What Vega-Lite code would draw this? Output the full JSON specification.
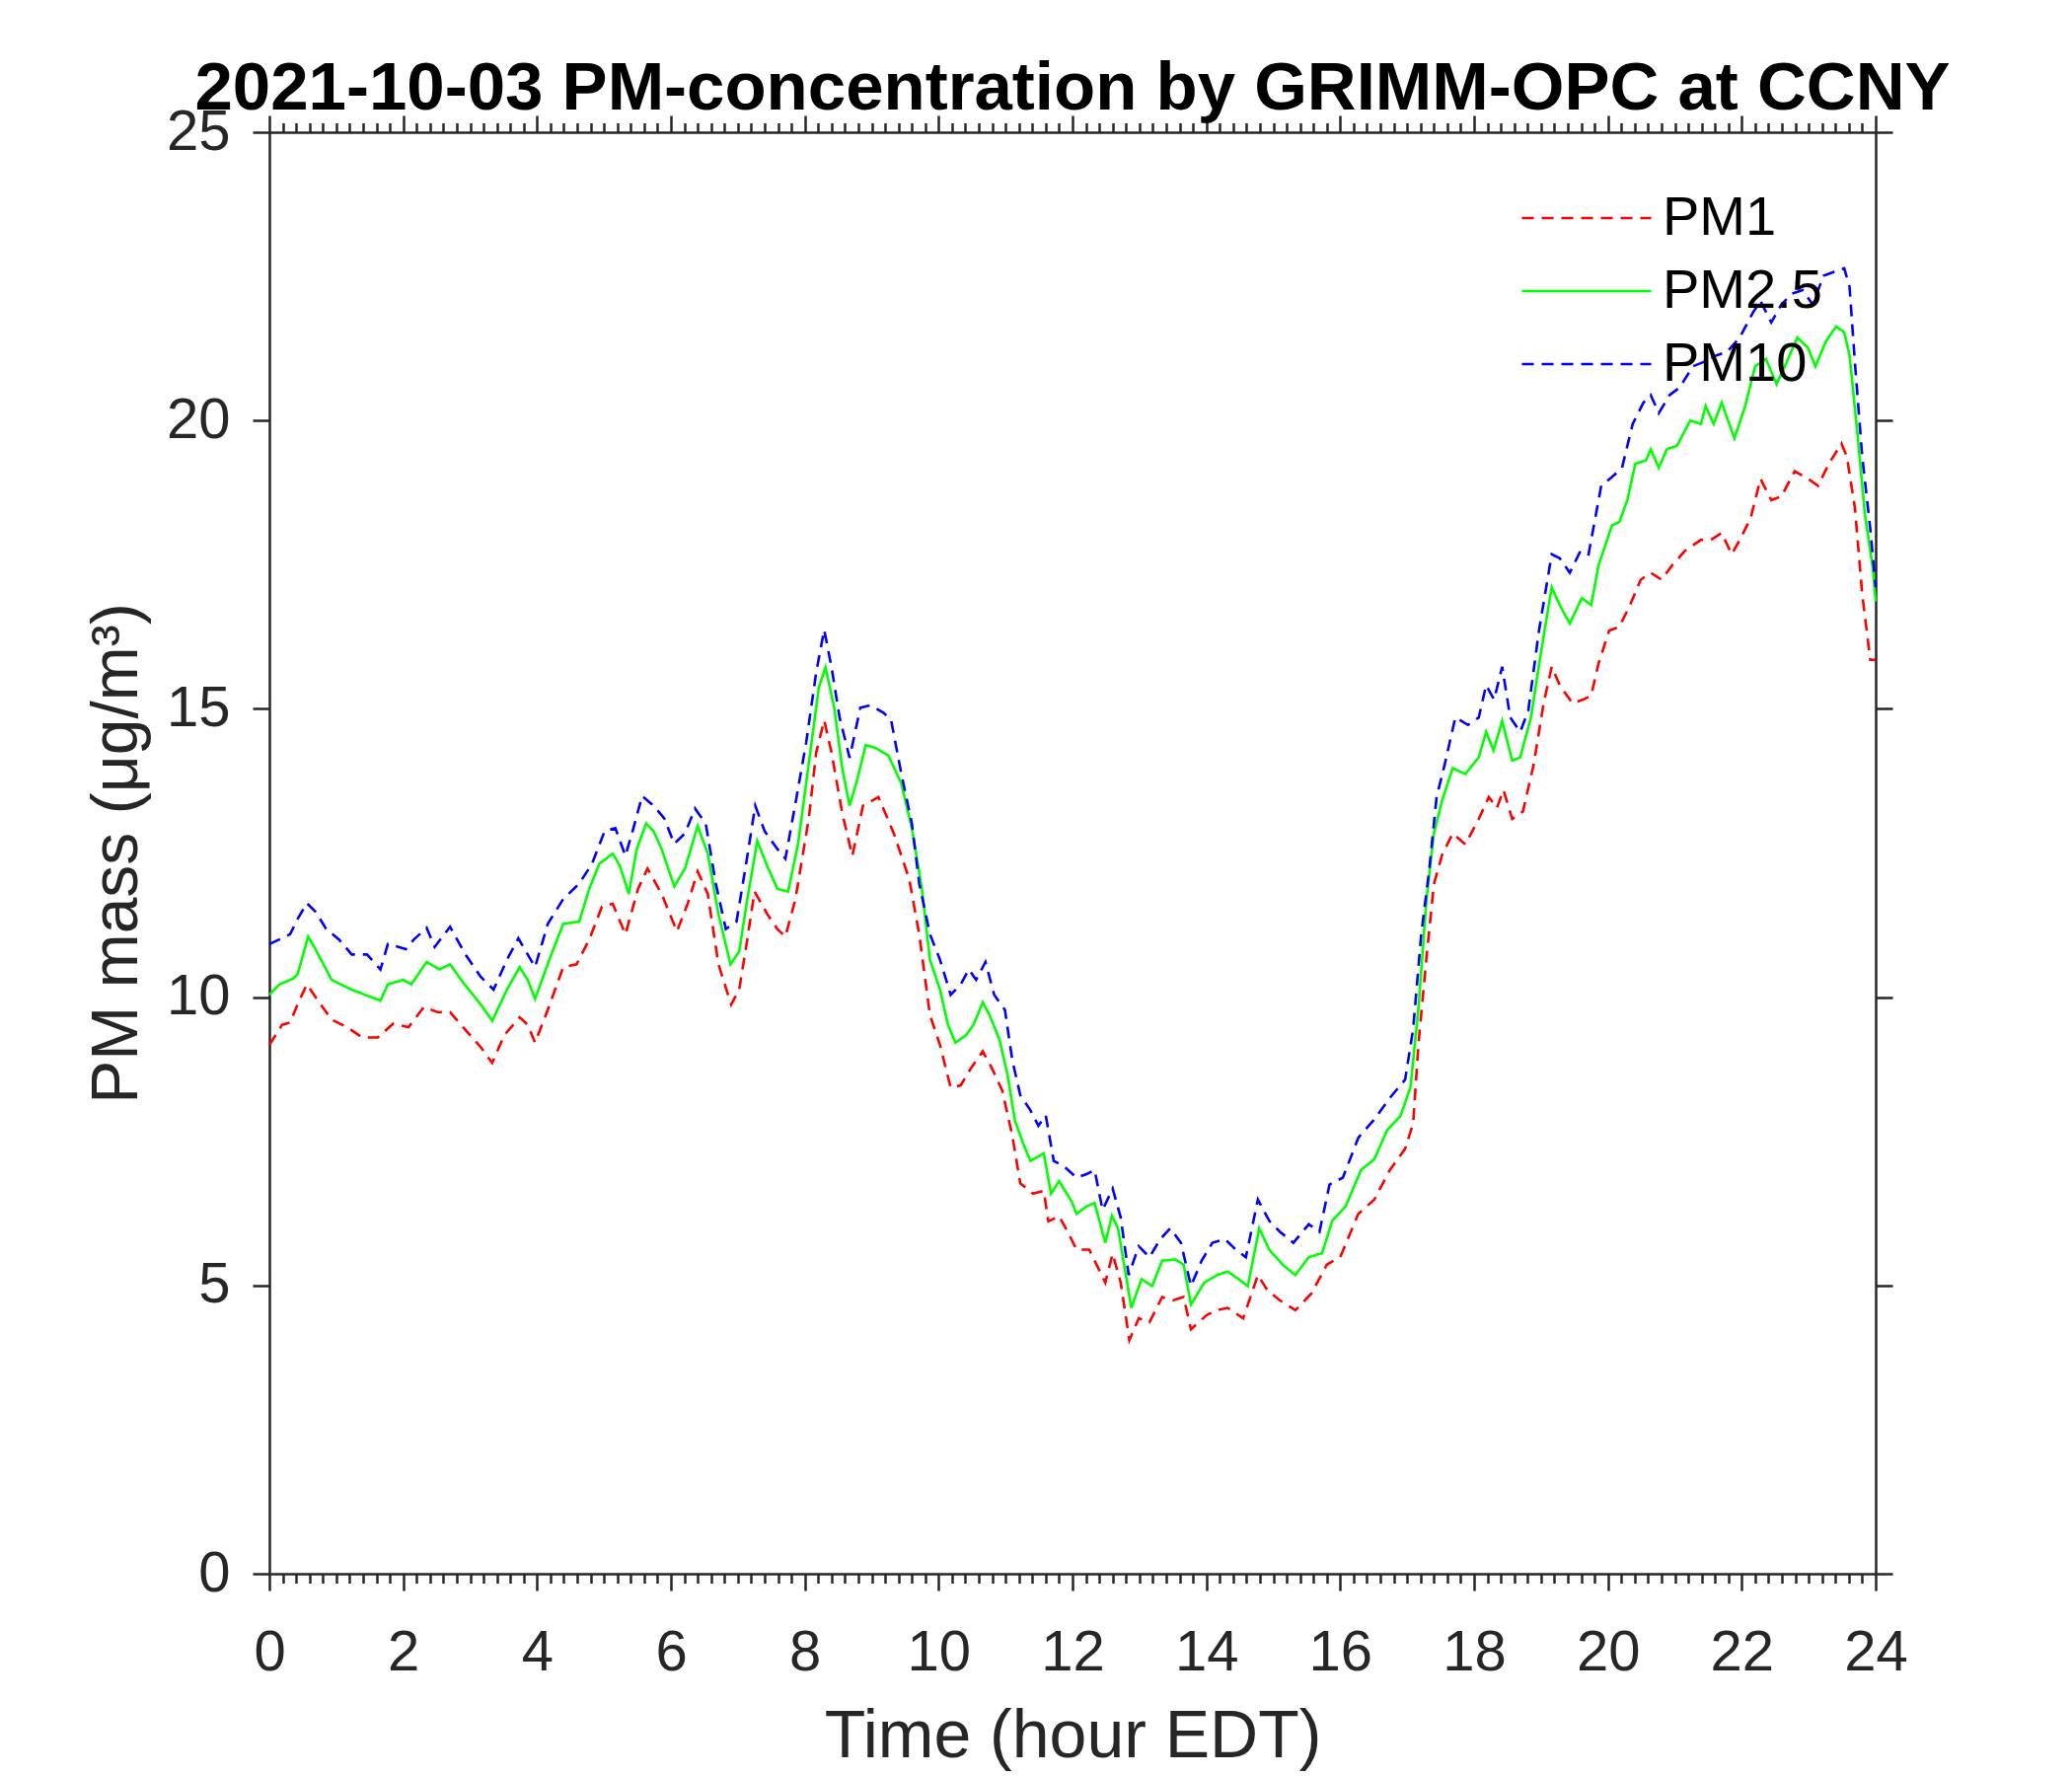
{
  "$schema": "https://vega.github.io/schema/vega-lite/v6.json",
  "width": 1628,
  "height": 1461,
  "autosize": "none",
  "padding": {"left": 273, "top": 134, "right": 199, "bottom": 205},
  "background": "white",
  "config": {"view": {"stroke": null}},
  "title": {
    "text": "2021-10-03 PM-concentration by GRIMM-OPC at CCNY",
    "font": "Liberation Sans",
    "fontSize": 69,
    "fontWeight": "bold",
    "color": "#000000",
    "anchor": "middle",
    "frame": "group",
    "offset": -20
  },
  "data": {
    "values": [
      {"t": 0, "s": "PM1", "v": 9.17}, {"t": 0.19, "s": "PM1", "v": 9.52}, {"t": 0.31, "s": "PM1", "v": 9.56}, {"t": 0.42, "s": "PM1", "v": 9.87}, {"t": 0.56, "s": "PM1", "v": 10.22}, {"t": 0.69, "s": "PM1", "v": 10.0}, {"t": 0.93, "s": "PM1", "v": 9.61}, {"t": 1.16, "s": "PM1", "v": 9.48}, {"t": 1.39, "s": "PM1", "v": 9.3}, {"t": 1.62, "s": "PM1", "v": 9.3}, {"t": 1.85, "s": "PM1", "v": 9.54}, {"t": 2.08, "s": "PM1", "v": 9.48}, {"t": 2.31, "s": "PM1", "v": 9.83}, {"t": 2.51, "s": "PM1", "v": 9.74}, {"t": 2.7, "s": "PM1", "v": 9.74}, {"t": 2.93, "s": "PM1", "v": 9.43}, {"t": 3.16, "s": "PM1", "v": 9.13}, {"t": 3.33, "s": "PM1", "v": 8.86}, {"t": 3.51, "s": "PM1", "v": 9.34}, {"t": 3.74, "s": "PM1", "v": 9.65}, {"t": 3.86, "s": "PM1", "v": 9.52}, {"t": 3.97, "s": "PM1", "v": 9.21}, {"t": 4.16, "s": "PM1", "v": 9.78}, {"t": 4.39, "s": "PM1", "v": 10.52}, {"t": 4.59, "s": "PM1", "v": 10.57}, {"t": 4.78, "s": "PM1", "v": 11.0}, {"t": 4.97, "s": "PM1", "v": 11.57}, {"t": 5.13, "s": "PM1", "v": 11.62}, {"t": 5.32, "s": "PM1", "v": 11.09}, {"t": 5.51, "s": "PM1", "v": 11.88}, {"t": 5.65, "s": "PM1", "v": 12.23}, {"t": 5.86, "s": "PM1", "v": 11.79}, {"t": 6.09, "s": "PM1", "v": 11.14}, {"t": 6.25, "s": "PM1", "v": 11.62}, {"t": 6.4, "s": "PM1", "v": 12.18}, {"t": 6.55, "s": "PM1", "v": 11.79}, {"t": 6.71, "s": "PM1", "v": 10.57}, {"t": 6.9, "s": "PM1", "v": 9.87}, {"t": 7.02, "s": "PM1", "v": 10.13}, {"t": 7.13, "s": "PM1", "v": 10.92}, {"t": 7.25, "s": "PM1", "v": 11.83}, {"t": 7.44, "s": "PM1", "v": 11.44}, {"t": 7.59, "s": "PM1", "v": 11.18}, {"t": 7.71, "s": "PM1", "v": 11.05}, {"t": 7.86, "s": "PM1", "v": 11.7}, {"t": 8.06, "s": "PM1", "v": 13.1}, {"t": 8.17, "s": "PM1", "v": 14.24}, {"t": 8.29, "s": "PM1", "v": 14.8}, {"t": 8.4, "s": "PM1", "v": 14.24}, {"t": 8.56, "s": "PM1", "v": 13.19}, {"t": 8.71, "s": "PM1", "v": 12.45}, {"t": 8.87, "s": "PM1", "v": 13.32}, {"t": 9.1, "s": "PM1", "v": 13.47}, {"t": 9.33, "s": "PM1", "v": 12.84}, {"t": 9.56, "s": "PM1", "v": 12.05}, {"t": 9.71, "s": "PM1", "v": 11.09}, {"t": 9.87, "s": "PM1", "v": 9.69}, {"t": 10.02, "s": "PM1", "v": 9.17}, {"t": 10.18, "s": "PM1", "v": 8.43}, {"t": 10.33, "s": "PM1", "v": 8.47}, {"t": 10.49, "s": "PM1", "v": 8.78}, {"t": 10.66, "s": "PM1", "v": 9.06}, {"t": 10.79, "s": "PM1", "v": 8.78}, {"t": 10.95, "s": "PM1", "v": 8.38}, {"t": 11.1, "s": "PM1", "v": 7.6}, {"t": 11.22, "s": "PM1", "v": 6.77}, {"t": 11.41, "s": "PM1", "v": 6.59}, {"t": 11.57, "s": "PM1", "v": 6.64}, {"t": 11.64, "s": "PM1", "v": 6.11}, {"t": 11.8, "s": "PM1", "v": 6.2}, {"t": 11.92, "s": "PM1", "v": 5.95}, {"t": 12.06, "s": "PM1", "v": 5.62}, {"t": 12.25, "s": "PM1", "v": 5.62}, {"t": 12.49, "s": "PM1", "v": 5.05}, {"t": 12.6, "s": "PM1", "v": 5.55}, {"t": 12.72, "s": "PM1", "v": 5.05}, {"t": 12.85, "s": "PM1", "v": 4.05}, {"t": 12.99, "s": "PM1", "v": 4.43}, {"t": 13.15, "s": "PM1", "v": 4.36}, {"t": 13.34, "s": "PM1", "v": 4.8}, {"t": 13.5, "s": "PM1", "v": 4.74}, {"t": 13.66, "s": "PM1", "v": 4.8}, {"t": 13.77, "s": "PM1", "v": 4.24}, {"t": 14.01, "s": "PM1", "v": 4.49}, {"t": 14.16, "s": "PM1", "v": 4.57}, {"t": 14.32, "s": "PM1", "v": 4.61}, {"t": 14.55, "s": "PM1", "v": 4.43}, {"t": 14.77, "s": "PM1", "v": 5.18}, {"t": 14.91, "s": "PM1", "v": 4.92}, {"t": 15.1, "s": "PM1", "v": 4.74}, {"t": 15.33, "s": "PM1", "v": 4.57}, {"t": 15.57, "s": "PM1", "v": 4.86}, {"t": 15.8, "s": "PM1", "v": 5.36}, {"t": 16.0, "s": "PM1", "v": 5.49}, {"t": 16.27, "s": "PM1", "v": 6.24}, {"t": 16.51, "s": "PM1", "v": 6.49}, {"t": 16.74, "s": "PM1", "v": 7.0}, {"t": 16.97, "s": "PM1", "v": 7.37}, {"t": 17.09, "s": "PM1", "v": 7.81}, {"t": 17.17, "s": "PM1", "v": 9.2}, {"t": 17.29, "s": "PM1", "v": 10.7}, {"t": 17.4, "s": "PM1", "v": 11.96}, {"t": 17.52, "s": "PM1", "v": 12.46}, {"t": 17.68, "s": "PM1", "v": 12.84}, {"t": 17.87, "s": "PM1", "v": 12.65}, {"t": 18.07, "s": "PM1", "v": 13.09}, {"t": 18.22, "s": "PM1", "v": 13.47}, {"t": 18.34, "s": "PM1", "v": 13.28}, {"t": 18.44, "s": "PM1", "v": 13.59}, {"t": 18.57, "s": "PM1", "v": 13.09}, {"t": 18.73, "s": "PM1", "v": 13.22}, {"t": 18.89, "s": "PM1", "v": 14.03}, {"t": 19.04, "s": "PM1", "v": 15.1}, {"t": 19.16, "s": "PM1", "v": 15.73}, {"t": 19.28, "s": "PM1", "v": 15.41}, {"t": 19.47, "s": "PM1", "v": 15.1}, {"t": 19.63, "s": "PM1", "v": 15.16}, {"t": 19.75, "s": "PM1", "v": 15.23}, {"t": 19.86, "s": "PM1", "v": 15.79}, {"t": 20.02, "s": "PM1", "v": 16.36}, {"t": 20.17, "s": "PM1", "v": 16.42}, {"t": 20.33, "s": "PM1", "v": 16.8}, {"t": 20.49, "s": "PM1", "v": 17.24}, {"t": 20.64, "s": "PM1", "v": 17.36}, {"t": 20.8, "s": "PM1", "v": 17.24}, {"t": 20.96, "s": "PM1", "v": 17.49}, {"t": 21.15, "s": "PM1", "v": 17.74}, {"t": 21.39, "s": "PM1", "v": 17.93}, {"t": 21.54, "s": "PM1", "v": 17.93}, {"t": 21.7, "s": "PM1", "v": 18.05}, {"t": 21.85, "s": "PM1", "v": 17.68}, {"t": 21.97, "s": "PM1", "v": 17.93}, {"t": 22.13, "s": "PM1", "v": 18.3}, {"t": 22.28, "s": "PM1", "v": 18.99}, {"t": 22.44, "s": "PM1", "v": 18.62}, {"t": 22.59, "s": "PM1", "v": 18.68}, {"t": 22.79, "s": "PM1", "v": 19.12}, {"t": 22.99, "s": "PM1", "v": 18.99}, {"t": 23.14, "s": "PM1", "v": 18.87}, {"t": 23.3, "s": "PM1", "v": 19.25}, {"t": 23.49, "s": "PM1", "v": 19.6}, {"t": 23.57, "s": "PM1", "v": 19.37}, {"t": 23.69, "s": "PM1", "v": 18.49}, {"t": 23.8, "s": "PM1", "v": 16.98}, {"t": 23.92, "s": "PM1", "v": 15.85}, {"t": 24.0, "s": "PM1", "v": 15.85},

      {"t": 0, "s": "PM2.5", "v": 10.04}, {"t": 0.15, "s": "PM2.5", "v": 10.22}, {"t": 0.35, "s": "PM2.5", "v": 10.32}, {"t": 0.42, "s": "PM2.5", "v": 10.39}, {"t": 0.58, "s": "PM2.5", "v": 11.05}, {"t": 0.69, "s": "PM2.5", "v": 10.83}, {"t": 0.93, "s": "PM2.5", "v": 10.3}, {"t": 1.23, "s": "PM2.5", "v": 10.13}, {"t": 1.43, "s": "PM2.5", "v": 10.04}, {"t": 1.66, "s": "PM2.5", "v": 9.94}, {"t": 1.77, "s": "PM2.5", "v": 10.22}, {"t": 2.0, "s": "PM2.5", "v": 10.3}, {"t": 2.12, "s": "PM2.5", "v": 10.22}, {"t": 2.35, "s": "PM2.5", "v": 10.61}, {"t": 2.54, "s": "PM2.5", "v": 10.48}, {"t": 2.7, "s": "PM2.5", "v": 10.57}, {"t": 2.89, "s": "PM2.5", "v": 10.26}, {"t": 3.16, "s": "PM2.5", "v": 9.87}, {"t": 3.33, "s": "PM2.5", "v": 9.59}, {"t": 3.55, "s": "PM2.5", "v": 10.13}, {"t": 3.74, "s": "PM2.5", "v": 10.52}, {"t": 3.86, "s": "PM2.5", "v": 10.3}, {"t": 3.97, "s": "PM2.5", "v": 9.97}, {"t": 4.2, "s": "PM2.5", "v": 10.7}, {"t": 4.39, "s": "PM2.5", "v": 11.27}, {"t": 4.63, "s": "PM2.5", "v": 11.31}, {"t": 4.78, "s": "PM2.5", "v": 11.88}, {"t": 4.93, "s": "PM2.5", "v": 12.31}, {"t": 5.13, "s": "PM2.5", "v": 12.49}, {"t": 5.24, "s": "PM2.5", "v": 12.27}, {"t": 5.37, "s": "PM2.5", "v": 11.79}, {"t": 5.49, "s": "PM2.5", "v": 12.57}, {"t": 5.63, "s": "PM2.5", "v": 13.01}, {"t": 5.74, "s": "PM2.5", "v": 12.88}, {"t": 5.86, "s": "PM2.5", "v": 12.57}, {"t": 6.05, "s": "PM2.5", "v": 11.92}, {"t": 6.21, "s": "PM2.5", "v": 12.23}, {"t": 6.4, "s": "PM2.5", "v": 12.97}, {"t": 6.55, "s": "PM2.5", "v": 12.49}, {"t": 6.71, "s": "PM2.5", "v": 11.44}, {"t": 6.89, "s": "PM2.5", "v": 10.57}, {"t": 7.02, "s": "PM2.5", "v": 10.79}, {"t": 7.13, "s": "PM2.5", "v": 11.62}, {"t": 7.29, "s": "PM2.5", "v": 12.71}, {"t": 7.44, "s": "PM2.5", "v": 12.27}, {"t": 7.59, "s": "PM2.5", "v": 11.88}, {"t": 7.75, "s": "PM2.5", "v": 11.83}, {"t": 7.9, "s": "PM2.5", "v": 12.66}, {"t": 8.06, "s": "PM2.5", "v": 14.06}, {"t": 8.21, "s": "PM2.5", "v": 15.37}, {"t": 8.31, "s": "PM2.5", "v": 15.72}, {"t": 8.44, "s": "PM2.5", "v": 15.02}, {"t": 8.56, "s": "PM2.5", "v": 13.97}, {"t": 8.67, "s": "PM2.5", "v": 13.32}, {"t": 8.79, "s": "PM2.5", "v": 13.8}, {"t": 8.91, "s": "PM2.5", "v": 14.37}, {"t": 9.06, "s": "PM2.5", "v": 14.32}, {"t": 9.25, "s": "PM2.5", "v": 14.19}, {"t": 9.44, "s": "PM2.5", "v": 13.71}, {"t": 9.6, "s": "PM2.5", "v": 12.93}, {"t": 9.75, "s": "PM2.5", "v": 11.88}, {"t": 9.87, "s": "PM2.5", "v": 10.65}, {"t": 10.02, "s": "PM2.5", "v": 10.13}, {"t": 10.14, "s": "PM2.5", "v": 9.52}, {"t": 10.25, "s": "PM2.5", "v": 9.21}, {"t": 10.41, "s": "PM2.5", "v": 9.34}, {"t": 10.52, "s": "PM2.5", "v": 9.52}, {"t": 10.66, "s": "PM2.5", "v": 9.91}, {"t": 10.76, "s": "PM2.5", "v": 9.69}, {"t": 10.91, "s": "PM2.5", "v": 9.26}, {"t": 11.03, "s": "PM2.5", "v": 8.65}, {"t": 11.14, "s": "PM2.5", "v": 7.86}, {"t": 11.26, "s": "PM2.5", "v": 7.47}, {"t": 11.37, "s": "PM2.5", "v": 7.16}, {"t": 11.57, "s": "PM2.5", "v": 7.29}, {"t": 11.68, "s": "PM2.5", "v": 6.59}, {"t": 11.8, "s": "PM2.5", "v": 6.81}, {"t": 11.99, "s": "PM2.5", "v": 6.45}, {"t": 12.06, "s": "PM2.5", "v": 6.24}, {"t": 12.21, "s": "PM2.5", "v": 6.37}, {"t": 12.33, "s": "PM2.5", "v": 6.43}, {"t": 12.49, "s": "PM2.5", "v": 5.74}, {"t": 12.59, "s": "PM2.5", "v": 6.21}, {"t": 12.68, "s": "PM2.5", "v": 5.99}, {"t": 12.88, "s": "PM2.5", "v": 4.61}, {"t": 13.03, "s": "PM2.5", "v": 5.11}, {"t": 13.19, "s": "PM2.5", "v": 4.99}, {"t": 13.34, "s": "PM2.5", "v": 5.43}, {"t": 13.54, "s": "PM2.5", "v": 5.45}, {"t": 13.66, "s": "PM2.5", "v": 5.36}, {"t": 13.77, "s": "PM2.5", "v": 4.67}, {"t": 13.97, "s": "PM2.5", "v": 5.05}, {"t": 14.16, "s": "PM2.5", "v": 5.18}, {"t": 14.32, "s": "PM2.5", "v": 5.24}, {"t": 14.48, "s": "PM2.5", "v": 5.11}, {"t": 14.62, "s": "PM2.5", "v": 4.99}, {"t": 14.79, "s": "PM2.5", "v": 5.99}, {"t": 14.94, "s": "PM2.5", "v": 5.62}, {"t": 15.14, "s": "PM2.5", "v": 5.36}, {"t": 15.33, "s": "PM2.5", "v": 5.18}, {"t": 15.53, "s": "PM2.5", "v": 5.49}, {"t": 15.73, "s": "PM2.5", "v": 5.56}, {"t": 15.88, "s": "PM2.5", "v": 6.12}, {"t": 16.08, "s": "PM2.5", "v": 6.37}, {"t": 16.31, "s": "PM2.5", "v": 7.0}, {"t": 16.51, "s": "PM2.5", "v": 7.19}, {"t": 16.7, "s": "PM2.5", "v": 7.69}, {"t": 16.9, "s": "PM2.5", "v": 7.94}, {"t": 17.05, "s": "PM2.5", "v": 8.44}, {"t": 17.17, "s": "PM2.5", "v": 9.82}, {"t": 17.29, "s": "PM2.5", "v": 11.71}, {"t": 17.4, "s": "PM2.5", "v": 12.84}, {"t": 17.52, "s": "PM2.5", "v": 13.4}, {"t": 17.68, "s": "PM2.5", "v": 13.97}, {"t": 17.87, "s": "PM2.5", "v": 13.87}, {"t": 18.07, "s": "PM2.5", "v": 14.16}, {"t": 18.18, "s": "PM2.5", "v": 14.6}, {"t": 18.29, "s": "PM2.5", "v": 14.28}, {"t": 18.42, "s": "PM2.5", "v": 14.79}, {"t": 18.57, "s": "PM2.5", "v": 14.1}, {"t": 18.69, "s": "PM2.5", "v": 14.16}, {"t": 18.85, "s": "PM2.5", "v": 14.85}, {"t": 19.0, "s": "PM2.5", "v": 15.98}, {"t": 19.16, "s": "PM2.5", "v": 17.11}, {"t": 19.28, "s": "PM2.5", "v": 16.8}, {"t": 19.43, "s": "PM2.5", "v": 16.48}, {"t": 19.61, "s": "PM2.5", "v": 16.92}, {"t": 19.75, "s": "PM2.5", "v": 16.8}, {"t": 19.86, "s": "PM2.5", "v": 17.49}, {"t": 20.06, "s": "PM2.5", "v": 18.18}, {"t": 20.17, "s": "PM2.5", "v": 18.24}, {"t": 20.29, "s": "PM2.5", "v": 18.62}, {"t": 20.41, "s": "PM2.5", "v": 19.25}, {"t": 20.57, "s": "PM2.5", "v": 19.31}, {"t": 20.64, "s": "PM2.5", "v": 19.5}, {"t": 20.76, "s": "PM2.5", "v": 19.18}, {"t": 20.88, "s": "PM2.5", "v": 19.5}, {"t": 21.03, "s": "PM2.5", "v": 19.56}, {"t": 21.23, "s": "PM2.5", "v": 20.0}, {"t": 21.39, "s": "PM2.5", "v": 19.94}, {"t": 21.46, "s": "PM2.5", "v": 20.25}, {"t": 21.58, "s": "PM2.5", "v": 19.94}, {"t": 21.7, "s": "PM2.5", "v": 20.31}, {"t": 21.89, "s": "PM2.5", "v": 19.69}, {"t": 22.05, "s": "PM2.5", "v": 20.25}, {"t": 22.2, "s": "PM2.5", "v": 20.94}, {"t": 22.36, "s": "PM2.5", "v": 21.07}, {"t": 22.52, "s": "PM2.5", "v": 20.63}, {"t": 22.67, "s": "PM2.5", "v": 21.01}, {"t": 22.83, "s": "PM2.5", "v": 21.44}, {"t": 22.99, "s": "PM2.5", "v": 21.26}, {"t": 23.1, "s": "PM2.5", "v": 20.94}, {"t": 23.26, "s": "PM2.5", "v": 21.38}, {"t": 23.41, "s": "PM2.5", "v": 21.63}, {"t": 23.53, "s": "PM2.5", "v": 21.53}, {"t": 23.61, "s": "PM2.5", "v": 21.13}, {"t": 23.73, "s": "PM2.5", "v": 19.75}, {"t": 23.84, "s": "PM2.5", "v": 18.37}, {"t": 23.96, "s": "PM2.5", "v": 17.42}, {"t": 24.0, "s": "PM2.5", "v": 16.86},

      {"t": 0, "s": "PM10", "v": 10.92}, {"t": 0.15, "s": "PM10", "v": 11.0}, {"t": 0.31, "s": "PM10", "v": 11.09}, {"t": 0.42, "s": "PM10", "v": 11.35}, {"t": 0.56, "s": "PM10", "v": 11.63}, {"t": 0.69, "s": "PM10", "v": 11.48}, {"t": 0.85, "s": "PM10", "v": 11.18}, {"t": 1.04, "s": "PM10", "v": 11.0}, {"t": 1.23, "s": "PM10", "v": 10.74}, {"t": 1.46, "s": "PM10", "v": 10.74}, {"t": 1.66, "s": "PM10", "v": 10.48}, {"t": 1.77, "s": "PM10", "v": 10.92}, {"t": 1.93, "s": "PM10", "v": 10.87}, {"t": 2.04, "s": "PM10", "v": 10.83}, {"t": 2.16, "s": "PM10", "v": 11.0}, {"t": 2.35, "s": "PM10", "v": 11.2}, {"t": 2.47, "s": "PM10", "v": 10.87}, {"t": 2.7, "s": "PM10", "v": 11.22}, {"t": 2.93, "s": "PM10", "v": 10.74}, {"t": 3.16, "s": "PM10", "v": 10.35}, {"t": 3.35, "s": "PM10", "v": 10.13}, {"t": 3.55, "s": "PM10", "v": 10.65}, {"t": 3.72, "s": "PM10", "v": 11.02}, {"t": 3.86, "s": "PM10", "v": 10.74}, {"t": 3.97, "s": "PM10", "v": 10.52}, {"t": 4.16, "s": "PM10", "v": 11.27}, {"t": 4.39, "s": "PM10", "v": 11.7}, {"t": 4.63, "s": "PM10", "v": 11.97}, {"t": 4.82, "s": "PM10", "v": 12.31}, {"t": 5.01, "s": "PM10", "v": 12.88}, {"t": 5.17, "s": "PM10", "v": 12.93}, {"t": 5.32, "s": "PM10", "v": 12.45}, {"t": 5.44, "s": "PM10", "v": 12.93}, {"t": 5.57, "s": "PM10", "v": 13.49}, {"t": 5.74, "s": "PM10", "v": 13.32}, {"t": 5.9, "s": "PM10", "v": 13.1}, {"t": 6.05, "s": "PM10", "v": 12.66}, {"t": 6.21, "s": "PM10", "v": 12.84}, {"t": 6.36, "s": "PM10", "v": 13.27}, {"t": 6.52, "s": "PM10", "v": 13.01}, {"t": 6.67, "s": "PM10", "v": 11.97}, {"t": 6.82, "s": "PM10", "v": 11.18}, {"t": 6.98, "s": "PM10", "v": 11.31}, {"t": 7.13, "s": "PM10", "v": 12.36}, {"t": 7.26, "s": "PM10", "v": 13.32}, {"t": 7.4, "s": "PM10", "v": 12.88}, {"t": 7.59, "s": "PM10", "v": 12.57}, {"t": 7.71, "s": "PM10", "v": 12.4}, {"t": 7.86, "s": "PM10", "v": 13.36}, {"t": 8.02, "s": "PM10", "v": 14.41}, {"t": 8.17, "s": "PM10", "v": 15.63}, {"t": 8.29, "s": "PM10", "v": 16.37}, {"t": 8.4, "s": "PM10", "v": 15.72}, {"t": 8.52, "s": "PM10", "v": 14.85}, {"t": 8.67, "s": "PM10", "v": 14.15}, {"t": 8.83, "s": "PM10", "v": 15.02}, {"t": 8.98, "s": "PM10", "v": 15.06}, {"t": 9.18, "s": "PM10", "v": 14.93}, {"t": 9.29, "s": "PM10", "v": 14.8}, {"t": 9.44, "s": "PM10", "v": 13.89}, {"t": 9.6, "s": "PM10", "v": 13.01}, {"t": 9.71, "s": "PM10", "v": 11.97}, {"t": 9.87, "s": "PM10", "v": 11.09}, {"t": 10.02, "s": "PM10", "v": 10.65}, {"t": 10.18, "s": "PM10", "v": 10.04}, {"t": 10.33, "s": "PM10", "v": 10.22}, {"t": 10.45, "s": "PM10", "v": 10.48}, {"t": 10.56, "s": "PM10", "v": 10.3}, {"t": 10.7, "s": "PM10", "v": 10.61}, {"t": 10.83, "s": "PM10", "v": 10.04}, {"t": 10.99, "s": "PM10", "v": 9.78}, {"t": 11.1, "s": "PM10", "v": 8.91}, {"t": 11.22, "s": "PM10", "v": 8.3}, {"t": 11.37, "s": "PM10", "v": 8.04}, {"t": 11.49, "s": "PM10", "v": 7.77}, {"t": 11.6, "s": "PM10", "v": 7.95}, {"t": 11.72, "s": "PM10", "v": 7.16}, {"t": 11.87, "s": "PM10", "v": 7.07}, {"t": 12.06, "s": "PM10", "v": 6.87}, {"t": 12.21, "s": "PM10", "v": 6.93}, {"t": 12.33, "s": "PM10", "v": 7.0}, {"t": 12.45, "s": "PM10", "v": 6.31}, {"t": 12.6, "s": "PM10", "v": 6.68}, {"t": 12.72, "s": "PM10", "v": 6.18}, {"t": 12.84, "s": "PM10", "v": 5.18}, {"t": 12.99, "s": "PM10", "v": 5.68}, {"t": 13.15, "s": "PM10", "v": 5.49}, {"t": 13.31, "s": "PM10", "v": 5.8}, {"t": 13.46, "s": "PM10", "v": 5.99}, {"t": 13.62, "s": "PM10", "v": 5.74}, {"t": 13.77, "s": "PM10", "v": 4.99}, {"t": 13.93, "s": "PM10", "v": 5.43}, {"t": 14.09, "s": "PM10", "v": 5.74}, {"t": 14.28, "s": "PM10", "v": 5.8}, {"t": 14.44, "s": "PM10", "v": 5.62}, {"t": 14.59, "s": "PM10", "v": 5.49}, {"t": 14.77, "s": "PM10", "v": 6.49}, {"t": 14.94, "s": "PM10", "v": 6.12}, {"t": 15.1, "s": "PM10", "v": 5.93}, {"t": 15.3, "s": "PM10", "v": 5.74}, {"t": 15.53, "s": "PM10", "v": 6.06}, {"t": 15.69, "s": "PM10", "v": 5.93}, {"t": 15.84, "s": "PM10", "v": 6.75}, {"t": 16.04, "s": "PM10", "v": 6.87}, {"t": 16.27, "s": "PM10", "v": 7.56}, {"t": 16.51, "s": "PM10", "v": 7.88}, {"t": 16.74, "s": "PM10", "v": 8.25}, {"t": 16.97, "s": "PM10", "v": 8.57}, {"t": 17.09, "s": "PM10", "v": 9.45}, {"t": 17.21, "s": "PM10", "v": 11.08}, {"t": 17.33, "s": "PM10", "v": 12.21}, {"t": 17.44, "s": "PM10", "v": 13.47}, {"t": 17.56, "s": "PM10", "v": 14.03}, {"t": 17.72, "s": "PM10", "v": 14.85}, {"t": 17.91, "s": "PM10", "v": 14.72}, {"t": 18.07, "s": "PM10", "v": 14.85}, {"t": 18.18, "s": "PM10", "v": 15.41}, {"t": 18.3, "s": "PM10", "v": 15.16}, {"t": 18.42, "s": "PM10", "v": 15.73}, {"t": 18.54, "s": "PM10", "v": 14.85}, {"t": 18.69, "s": "PM10", "v": 14.6}, {"t": 18.81, "s": "PM10", "v": 14.97}, {"t": 18.97, "s": "PM10", "v": 16.36}, {"t": 19.16, "s": "PM10", "v": 17.68}, {"t": 19.28, "s": "PM10", "v": 17.61}, {"t": 19.43, "s": "PM10", "v": 17.36}, {"t": 19.59, "s": "PM10", "v": 17.74}, {"t": 19.71, "s": "PM10", "v": 17.68}, {"t": 19.9, "s": "PM10", "v": 18.87}, {"t": 20.06, "s": "PM10", "v": 19.02}, {"t": 20.21, "s": "PM10", "v": 19.18}, {"t": 20.37, "s": "PM10", "v": 19.94}, {"t": 20.53, "s": "PM10", "v": 20.31}, {"t": 20.64, "s": "PM10", "v": 20.44}, {"t": 20.76, "s": "PM10", "v": 20.13}, {"t": 20.92, "s": "PM10", "v": 20.44}, {"t": 21.07, "s": "PM10", "v": 20.57}, {"t": 21.27, "s": "PM10", "v": 20.94}, {"t": 21.42, "s": "PM10", "v": 21.01}, {"t": 21.62, "s": "PM10", "v": 21.13}, {"t": 21.78, "s": "PM10", "v": 21.19}, {"t": 21.97, "s": "PM10", "v": 21.44}, {"t": 22.17, "s": "PM10", "v": 21.88}, {"t": 22.28, "s": "PM10", "v": 22.07}, {"t": 22.44, "s": "PM10", "v": 21.7}, {"t": 22.59, "s": "PM10", "v": 22.01}, {"t": 22.75, "s": "PM10", "v": 22.2}, {"t": 22.91, "s": "PM10", "v": 22.26}, {"t": 23.06, "s": "PM10", "v": 22.01}, {"t": 23.22, "s": "PM10", "v": 22.51}, {"t": 23.38, "s": "PM10", "v": 22.58}, {"t": 23.53, "s": "PM10", "v": 22.64}, {"t": 23.61, "s": "PM10", "v": 22.32}, {"t": 23.69, "s": "PM10", "v": 21.01}, {"t": 23.8, "s": "PM10", "v": 19.37}, {"t": 23.92, "s": "PM10", "v": 18.12}, {"t": 24.0, "s": "PM10", "v": 17.11}
    ]
  },
  "layer": [
    {
      "mark": {"type": "line", "strokeWidth": 2.6},
      "encoding": {
        "x": {
          "field": "t", "type": "quantitative",
          "scale": {"domain": [0, 24], "nice": false, "zero": false},
          "axis": {
            "orient": "bottom", "values": [0, 2, 4, 6, 8, 10, 12, 14, 16, 18, 20, 22, 24],
            "grid": false, "tickSize": 17, "tickWidth": 2.5, "tickColor": "#262626",
            "domainColor": "#262626", "domainWidth": 2.5,
            "labelFont": "Liberation Sans", "labelFontSize": 58, "labelColor": "#262626",
            "labelPadding": 34, "labelFlush": false, "labelOverlap": false,
            "title": "Time (hour EDT)", "titleFont": "Liberation Sans", "titleFontSize": 68,
            "titleFontWeight": "normal", "titleColor": "#262626", "titlePadding": 22
          }
        },
        "y": {
          "field": "v", "type": "quantitative",
          "scale": {"domain": [0, 25], "nice": false},
          "axis": {
            "orient": "left", "values": [0, 5, 10, 15, 20, 25],
            "grid": false, "tickSize": 17, "tickWidth": 2.5, "tickColor": "#262626",
            "domainColor": "#262626", "domainWidth": 2.5,
            "labelFont": "Liberation Sans", "labelFontSize": 58, "labelColor": "#262626",
            "labelPadding": 23, "labelFlush": false, "labelOverlap": false,
            "title": "PM mass (μg/m³)", "titleFont": "Liberation Sans", "titleFontSize": 66,
            "titleFontWeight": "normal", "titleColor": "#262626", "titlePadding": 16
          }
        },
        "color": {
          "field": "s", "type": "nominal",
          "scale": {"domain": ["PM1", "PM2.5", "PM10"], "range": ["#ff0000", "#00ff00", "#0000ff"]},
          "legend": {
            "title": null, "orient": "none", "legendX": 1268, "legendY": 50,
            "symbolType": "stroke", "symbolSize": 17161, "symbolStrokeWidth": 2.6,
            "labelFont": "Liberation Sans", "labelFontSize": 56, "labelColor": "#000000",
            "labelLimit": 0, "labelOffset": 10, "clipHeight": 74, "rowPadding": 0
          }
        },
        "strokeDash": {
          "field": "s", "type": "nominal",
          "scale": {"domain": ["PM1", "PM2.5", "PM10"], "range": [[12, 8], [1, 0], [12, 8]]},
          "legend": {
            "title": null, "orient": "none", "legendX": 1268, "legendY": 50,
            "symbolType": "stroke", "symbolSize": 17161, "symbolStrokeWidth": 2.6,
            "labelFont": "Liberation Sans", "labelFontSize": 56, "labelColor": "#000000",
            "labelLimit": 0, "labelOffset": 10, "clipHeight": 74, "rowPadding": 0
          }
        }
      }
    },
    {
      "mark": {"type": "line", "opacity": 0},
      "encoding": {
        "x": {
          "field": "t", "type": "quantitative",
          "axis": {
            "orient": "top", "values": [0, 2, 4, 6, 8, 10, 12, 14, 16, 18, 20, 22, 24],
            "grid": false, "labels": false, "title": null, "tickSize": 17, "tickWidth": 2.5,
            "tickColor": "#262626", "domainColor": "#262626", "domainWidth": 2.5
          }
        },
        "y": {
          "field": "v", "type": "quantitative",
          "axis": {
            "orient": "right", "values": [0, 5, 10, 15, 20, 25],
            "grid": false, "labels": false, "title": null, "tickSize": 17, "tickWidth": 2.5,
            "tickColor": "#262626", "domainColor": "#262626", "domainWidth": 2.5
          }
        }
      }
    },
    {
      "mark": {"type": "line", "opacity": 0},
      "encoding": {
        "x": {
          "field": "t", "type": "quantitative",
          "axis": {
            "orient": "bottom",
            "values": [0.2, 0.4, 0.6, 0.8, 1, 1.2, 1.4, 1.6, 1.8, 2.2, 2.4, 2.6, 2.8, 3, 3.2, 3.4, 3.6, 3.8, 4.2, 4.4, 4.6, 4.8, 5, 5.2, 5.4, 5.6, 5.8, 6.2, 6.4, 6.6, 6.8, 7, 7.2, 7.4, 7.6, 7.8, 8.2, 8.4, 8.6, 8.8, 9, 9.2, 9.4, 9.6, 9.8, 10.2, 10.4, 10.6, 10.8, 11, 11.2, 11.4, 11.6, 11.8, 12.2, 12.4, 12.6, 12.8, 13, 13.2, 13.4, 13.6, 13.8, 14.2, 14.4, 14.6, 14.8, 15, 15.2, 15.4, 15.6, 15.8, 16.2, 16.4, 16.6, 16.8, 17, 17.2, 17.4, 17.6, 17.8, 18.2, 18.4, 18.6, 18.8, 19, 19.2, 19.4, 19.6, 19.8, 20.2, 20.4, 20.6, 20.8, 21, 21.2, 21.4, 21.6, 21.8, 22.2, 22.4, 22.6, 22.8, 23, 23.2, 23.4, 23.6, 23.8],
            "grid": false, "labels": false, "domain": false, "title": null,
            "tickSize": 9.5, "tickWidth": 2.5, "tickColor": "#262626"
          }
        },
        "y": {"field": "v", "type": "quantitative", "axis": null}
      }
    },
    {
      "mark": {"type": "line", "opacity": 0},
      "encoding": {
        "x": {
          "field": "t", "type": "quantitative",
          "axis": {
            "orient": "top",
            "values": [0.2, 0.4, 0.6, 0.8, 1, 1.2, 1.4, 1.6, 1.8, 2.2, 2.4, 2.6, 2.8, 3, 3.2, 3.4, 3.6, 3.8, 4.2, 4.4, 4.6, 4.8, 5, 5.2, 5.4, 5.6, 5.8, 6.2, 6.4, 6.6, 6.8, 7, 7.2, 7.4, 7.6, 7.8, 8.2, 8.4, 8.6, 8.8, 9, 9.2, 9.4, 9.6, 9.8, 10.2, 10.4, 10.6, 10.8, 11, 11.2, 11.4, 11.6, 11.8, 12.2, 12.4, 12.6, 12.8, 13, 13.2, 13.4, 13.6, 13.8, 14.2, 14.4, 14.6, 14.8, 15, 15.2, 15.4, 15.6, 15.8, 16.2, 16.4, 16.6, 16.8, 17, 17.2, 17.4, 17.6, 17.8, 18.2, 18.4, 18.6, 18.8, 19, 19.2, 19.4, 19.6, 19.8, 20.2, 20.4, 20.6, 20.8, 21, 21.2, 21.4, 21.6, 21.8, 22.2, 22.4, 22.6, 22.8, 23, 23.2, 23.4, 23.6, 23.8],
            "grid": false, "labels": false, "domain": false, "title": null,
            "tickSize": 9.5, "tickWidth": 2.5, "tickColor": "#262626"
          }
        },
        "y": {"field": "v", "type": "quantitative", "axis": null}
      }
    }
  ],
  "resolve": {"axis": {"x": "independent", "y": "independent"}}
}
